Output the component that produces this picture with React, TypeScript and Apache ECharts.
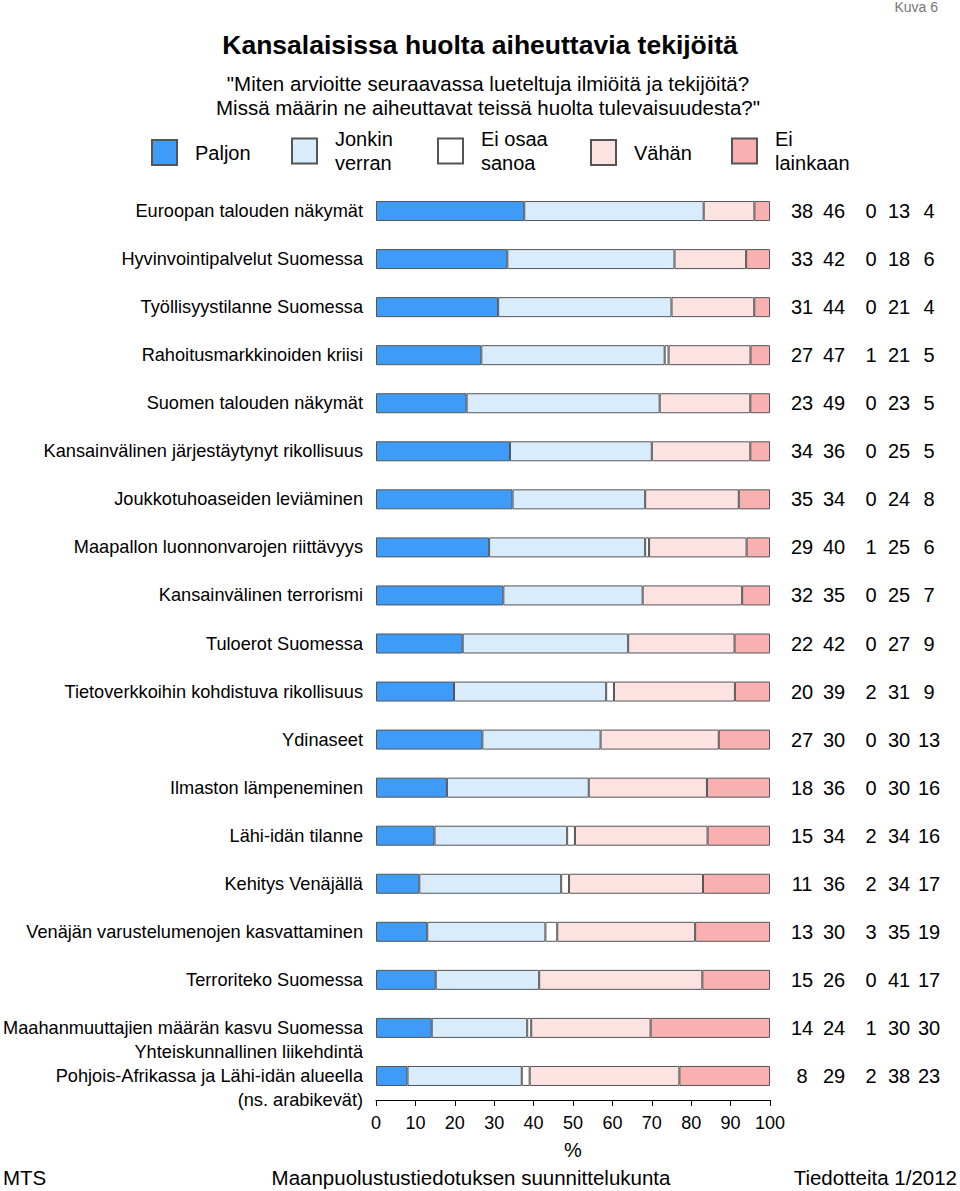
import React, { useEffect, useRef } from "react";
import * as echarts from "echarts";

const categories = [
  "Euroopan talouden näkymät",
  "Hyvinvointipalvelut Suomessa",
  "Työllisyystilanne Suomessa",
  "Rahoitusmarkkinoiden kriisi",
  "Suomen talouden näkymät",
  "Kansainvälinen järjestäytynyt rikollisuus",
  "Joukkotuhoaseiden leviäminen",
  "Maapallon luonnonvarojen riittävyys",
  "Kansainvälinen terrorismi",
  "Tuloerot Suomessa",
  "Tietoverkkoihin kohdistuva rikollisuus",
  "Ydinaseet",
  "Ilmaston lämpeneminen",
  "Lähi-idän tilanne",
  "Kehitys Venäjällä",
  "Venäjän varustelumenojen kasvattaminen",
  "Terroriteko Suomessa",
  "Maahanmuuttajien määrän kasvu Suomessa",
  "Yhteiskunnallinen liikehdintä\nPohjois-Afrikassa ja Lähi-idän alueella\n(ns. arabikevät)",
];

const paljon = [38, 33, 31, 27, 23, 34, 35, 29, 32, 22, 20, 27, 18, 15, 11, 13, 15, 14, 8];
const jonkinVerran = [46, 42, 44, 47, 49, 36, 34, 40, 35, 42, 39, 30, 36, 34, 36, 30, 26, 24, 29];
const eiOsaa = [0, 0, 0, 1, 0, 0, 0, 1, 0, 0, 2, 0, 0, 2, 2, 3, 0, 1, 2];
const vahan = [13, 18, 21, 21, 23, 25, 24, 25, 25, 27, 31, 30, 30, 34, 34, 35, 41, 30, 38];
const eiLainkaan = [4, 6, 4, 5, 5, 5, 8, 6, 7, 9, 9, 13, 16, 16, 17, 19, 17, 30, 23];

const seriesNames = ["Paljon", "Jonkin verran", "Ei osaa sanoa", "Vähän", "Ei lainkaan"];
const legendLabels = ["Paljon", "Jonkin\nverran", "Ei osaa\nsanoa", "Vähän", "Ei\nlainkaan"];
const seriesColors = ["#3f9bf8", "#d9ecfb", "#ffffff", "#fde2e2", "#f9b0b0"];
const xTicks = [0, 10, 20, 30, 40, 50, 60, 70, 80, 90, 100];

const FONT = "'Liberation Sans', Arial, sans-serif";

export default function App() {
  const ref = useRef<HTMLDivElement>(null);
  useEffect(() => {
    if (!ref.current) return;
    const chart = echarts.init(ref.current, undefined, { renderer: "svg" });
    const all = [paljon, jonkinVerran, eiOsaa, vahan, eiLainkaan];
    const totals = categories.map((_, i) => all.reduce((s, arr) => s + arr[i], 0));

    const legendLefts = [151, 291, 437, 590, 731];
    const legendTops = [139, 127, 127, 139, 127];
    const valueCenters = [32, 64, 101, 129, 159];

    const option: any = {
      animation: false,
      textStyle: { fontFamily: FONT },
      title: [
        {
          text: "Kansalaisissa huolta aiheuttavia tekijöitä",
          left: 480,
          textAlign: "center",
          top: 31,
          padding: 0,
          textStyle: { fontSize: 26.5, fontWeight: "bold", color: "#000", fontFamily: FONT },
        },
        {
          text: '"Miten arvioitte seuraavassa lueteltuja ilmiöitä ja tekijöitä?\nMissä määrin ne aiheuttavat teissä huolta tulevaisuudesta?"',
          left: 488,
          textAlign: "center",
          top: 71,
          padding: 0,
          textStyle: { fontSize: 20.5, fontWeight: "normal", color: "#000", lineHeight: 24, fontFamily: FONT, align: "center" },
        },
        {
          text: "Kuva 6",
          right: 22,
          top: 0,
          padding: 0,
          textStyle: { fontSize: 14, lineHeight: 13, fontWeight: "normal", color: "#777", fontFamily: FONT },
        },
        {
          text: "MTS",
          left: 3,
          top: 1167,
          padding: 0,
          textStyle: { fontSize: 20.5, fontWeight: "normal", color: "#000", fontFamily: FONT },
        },
        {
          text: "Maanpuolustustiedotuksen suunnittelukunta",
          left: 471,
          textAlign: "center",
          top: 1167,
          padding: 0,
          textStyle: { fontSize: 20.5, fontWeight: "normal", color: "#000", fontFamily: FONT },
        },
        {
          text: "Tiedotteita 1/2012",
          right: 3,
          top: 1167,
          padding: 0,
          textStyle: { fontSize: 20.5, fontWeight: "normal", color: "#000", fontFamily: FONT },
        },
      ],
      legend: seriesNames.map((name, k) => ({
        data: [name],
        left: legendLefts[k],
        top: legendTops[k],
        padding: 0,
        itemWidth: 25,
        itemHeight: 25,
        icon: "rect",
        formatter: () => legendLabels[k],
        selectedMode: false,
        textStyle: { fontSize: 20, lineHeight: 24, color: "#000", fontFamily: FONT, padding: [0, 0, 0, 13] },
      })),
      grid: { left: 376, right: 190, top: 187, bottom: 91, containLabel: false, outerBoundsMode: "none" },
      xAxis: {
        type: "value",
        min: 0,
        max: 100,
        interval: 10,
        name: "%",
        nameLocation: "middle",
        nameGap: 40,
        nameTextStyle: { fontSize: 20, color: "#000", fontFamily: FONT },
        axisLine: { show: true, lineStyle: { color: "#000", width: 1 } },
        axisTick: { show: true, length: 6, lineStyle: { color: "#000" } },
        splitLine: { show: false },
        axisLabel: {
          fontSize: 18,
          color: "#000",
          margin: 14,
          fontFamily: FONT,
          formatter: (v: number) => (xTicks.includes(v) ? String(v) : ""),
        },
      },
      yAxis: [
        {
          type: "category",
          data: categories,
          inverse: true,
          axisLine: { show: false },
          axisTick: { show: false },
          axisLabel: { fontSize: 18.2, color: "#000", margin: 13, lineHeight: 24, fontFamily: FONT },
        },
        ...all.map((arr, k) => ({
          type: "category",
          data: categories,
          inverse: true,
          position: "right",
          offset: valueCenters[k],
          axisLine: { show: false },
          axisTick: { show: false },
          axisLabel: {
            fontSize: 20,
            color: "#000",
            margin: 0,
            align: "center",
            fontFamily: FONT,
            formatter: (_v: string, i: number) => String(arr[i]),
          },
        })),
      ],
      series: all.map((arr, k) => ({
        name: seriesNames[k],
        type: "bar",
        stack: "total",
        yAxisIndex: 0,
        barWidth: 20,
        itemStyle: { color: seriesColors[k], borderColor: "#555", borderWidth: 1 },
        emphasis: { disabled: true },
        data: arr.map((v, i) => (v === 0 ? "-" : (v / totals[i]) * 100)),
      })),
    };
    chart.setOption(option);
    return () => chart.dispose();
  }, []);
  return (
    <div
      ref={ref}
      style={{ position: "fixed", left: 0, top: 0, width: 960, height: 1191, background: "#fff" }}
    />
  );
}
